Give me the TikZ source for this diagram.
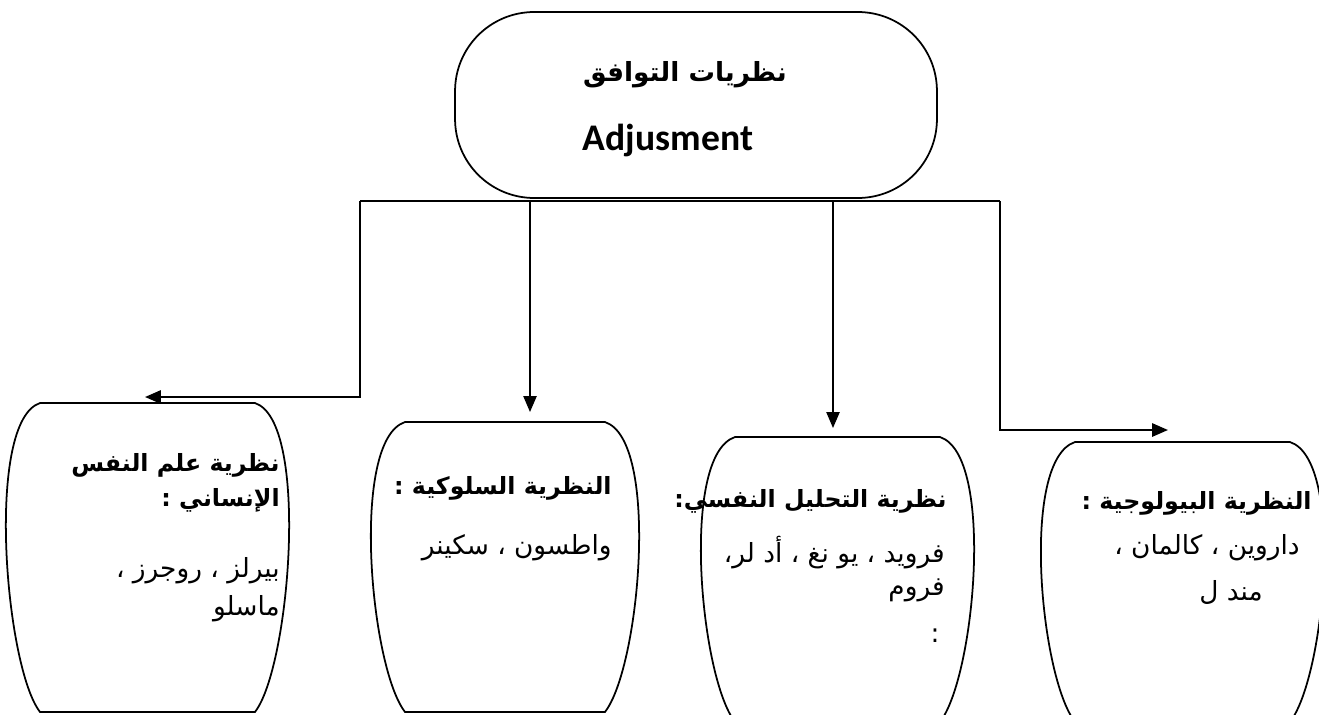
\documentclass[tikz,border=0pt]{standalone}
\usepackage{fontspec}
\setmainfont{Liberation Sans}
\newfontfamily\arabicfont[Script=Arabic]{DejaVu Sans}
\newfontfamily\calibri{Carlito}
\TeXXeTstate=1
\usetikzlibrary{arrows.meta,positioning}
\newcommand{\ar}[1]{{\arabicfont\beginR #1\endR}}

\begin{document}
\begin{tikzpicture}[x=0.02cm,y=-0.02cm,>={Triangle[length=9pt,width=7.5pt]},
  bow/.style={inner sep=0pt,outer sep=0pt},
  head/.style={inner sep=0pt,align=right,font=\arabicfont\bfseries\fontsize{13.5}{21}\selectfont},
  body/.style={inner sep=0pt,align=right,font=\arabicfont\fontsize{15}{21.5}\selectfont},
  link/.style={line width=1.2pt},
  thin/.style={line width=0.8pt}]
\clip (0,0) rectangle (1319,714);
\fill[white] (0,0) rectangle (1319,714);
% top node
\node[draw,line width=1pt,rounded corners=45pt,minimum width=9.64cm,minimum height=3.72cm] (top) at (696,105) {};
\node[inner sep=0pt,font=\arabicfont\bfseries\fontsize{15}{18}\selectfont] (toptitle) at (685,75) {\ar{نظريات التوافق}};
\node[inner sep=0pt,font=\calibri\bfseries\fontsize{21.4}{25}\selectfont] (topsub) at (668,140) {Adjusment};
% theory boxes
\node[bow,minimum width=4.3cm,minimum height=6.18cm] (hum) at (147.5,557.5) {};
\node[bow,minimum width=4cm,minimum height=5.8cm] (beh) at (505,567) {};
\node[bow,minimum width=4.1cm,minimum height=5.7cm] (psy) at (837.5,579.5) {};
\node[bow,minimum width=4.3cm,minimum height=5.6cm] (bio) at (1182.5,582) {};
\foreach \n in {hum,beh,psy,bio}
  \draw[line width=1pt] (\n.north west) -- (\n.north east)
    .. controls ([shift={(55,18)}]\n.north east) and ([shift={(35,-45)}]\n.south east) .. (\n.south east)
    -- (\n.south west)
    .. controls ([shift={(-35,-45)}]\n.south west) and ([shift={(-55,18)}]\n.north west) .. (\n.north west) -- cycle;
% texts
\node[head,anchor=north east] (humhead) at (280,453) {\ar{نظرية علم النفس}\\[-1pt]\ar{الإنساني :}};
\node[body,anchor=north east] (humbody) at (280,557) {\ar{بيرلز ، روجرز ،}\\\ar{ماسلو}};
\node[head,anchor=east] (behhead) at (612,488) {\ar{النظرية السلوكية :}};
\node[body,anchor=east] (behbody) at (612,548) {\ar{واطسون ، سكينر}};
\node[head,anchor=east] (psyhead) at (947,501) {\ar{نظرية التحليل النفسي:}};
\node[body,anchor=north east] (psybody) at (945,536) {\ar{فرويد ، يو نغ ، أد لر،}\\[-2.8pt]\ar{فروم}\\[5pt]\ar{:}\hspace*{3pt}};
\node[head,anchor=east] (biohead) at (1312,503) {\ar{النظرية البيولوجية :}};
\node[body,anchor=north east] (biobody) at (1300,534) {\ar{داروين ، كالمان ،}\\[5pt]\ar{مند ل}\hspace*{21pt}};
% connectors
\coordinate (jl) at (360,201);
\coordinate (jr) at (1000,201);
\coordinate (humin) at (145,397);
\coordinate (behin) at (530,412);
\coordinate (psyin) at (833,428);
\coordinate (bioin) at (1168,430);
\draw[link] (jl) -- (jr);
\draw[link,->] (jl) |- (humin);
\draw[thin,->] (jl -| behin) -- (behin);
\draw[thin,->] (jl -| psyin) -- (psyin);
\draw[link,->] (jr) |- (bioin);
\end{tikzpicture}
\end{document}
